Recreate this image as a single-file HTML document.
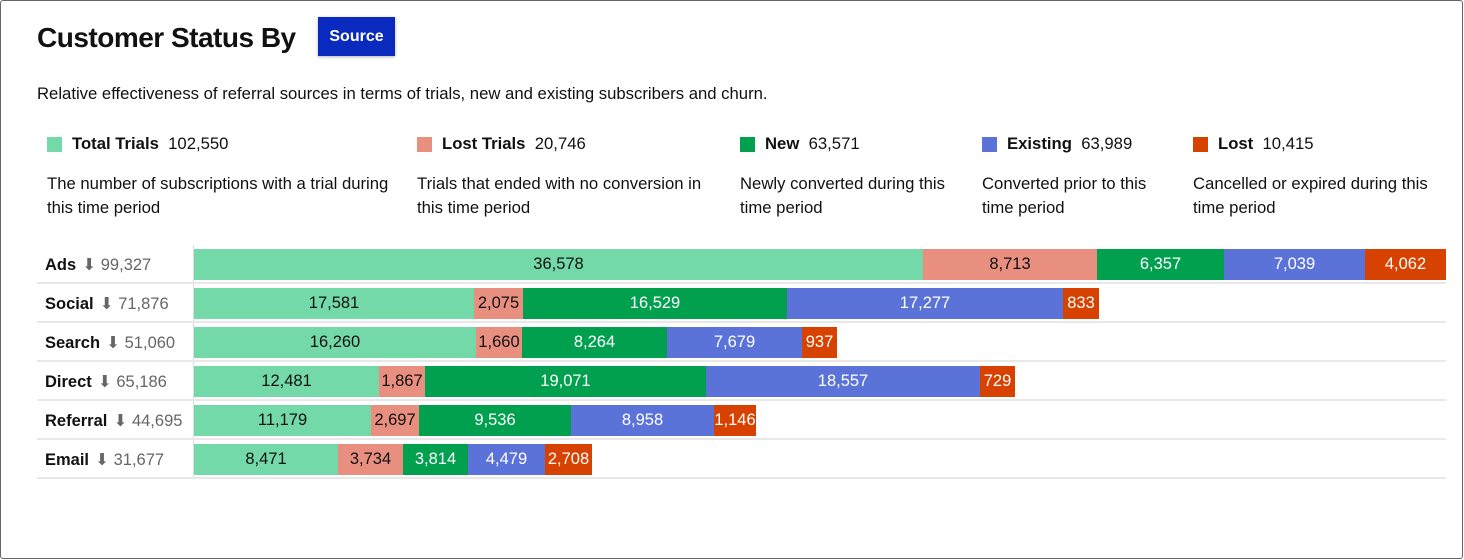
<!DOCTYPE html>
<html><head><meta charset="utf-8"><style>
*{margin:0;padding:0;box-sizing:border-box}
body{width:1464px;height:560px;background:#fff;font-family:"Liberation Sans",sans-serif;color:#111;position:relative;overflow:hidden}
.frame{position:absolute;left:0;top:0;width:1463px;height:559px;border:1px solid #666;border-radius:3px}
.abs{position:absolute;white-space:nowrap}
.title{left:37px;top:22px;font-size:28px;font-weight:bold;letter-spacing:-0.5px}
.btn{left:318px;top:17px;width:77px;height:39px;background:#0a29be;color:#fff;font-weight:bold;font-size:16px;text-align:center;line-height:39px;box-shadow:0 1px 3px rgba(0,0,0,.3)}
.sub{left:37px;top:84px;font-size:16.7px}
.sq{position:absolute;width:15px;height:15px;top:137px}
.lt{top:134px;font-size:16.7px}
.ds{top:172px;font-size:16.7px;line-height:24px;white-space:normal}
.rl{left:45px;font-size:16.5px}
.rl b{margin-right:6px}
.rl span{color:#666}
.sep{position:absolute;left:37px;width:1409px;height:2px;background:#e8e8e8}
.seg{position:absolute;height:31px;line-height:31px;text-align:center;font-size:16.5px;color:#111}
.w{color:#fff}
</style></head><body>
<div class="frame"></div>
<div class="abs title">Customer Status By</div>
<div class="abs btn">Source</div>
<div class="abs sub">Relative effectiveness of referral sources in terms of trials, new and existing subscribers and churn.</div>

<div class="sq" style="left:47px;background:#74d9a8"></div>
<div class="abs lt" style="left:72px"><b>Total Trials</b>&nbsp; 102,550</div>
<div class="abs ds" style="left:47px;width:360px">The number of subscriptions with a trial during this time period</div>
<div class="sq" style="left:417px;background:#e88f80"></div>
<div class="abs lt" style="left:442px"><b>Lost Trials</b>&nbsp; 20,746</div>
<div class="abs ds" style="left:417px;width:300px">Trials that ended with no conversion in this time period</div>
<div class="sq" style="left:740px;background:#00a04f"></div>
<div class="abs lt" style="left:765px"><b>New</b>&nbsp; 63,571</div>
<div class="abs ds" style="left:740px;width:220px">Newly converted during this time period</div>
<div class="sq" style="left:982px;background:#5b73d9"></div>
<div class="abs lt" style="left:1007px"><b>Existing</b>&nbsp; 63,989</div>
<div class="abs ds" style="left:982px;width:190px">Converted prior to this time period</div>
<div class="sq" style="left:1193px;background:#d84200"></div>
<div class="abs lt" style="left:1218px"><b>Lost</b>&nbsp; 10,415</div>
<div class="abs ds" style="left:1193px;width:250px">Cancelled or expired during this time period</div>

<div style="position:absolute;left:193px;top:245px;width:1px;height:234px;background:#ddd"></div>
<div id="rows"></div>
<script>
const C=['#74d9a8','#e88f80','#00a04f','#5b73d9','#d84200'];
const rows=[
['Ads','99,327',[194,923,1097,1224,1365,1446],['36,578','8,713','6,357','7,039','4,062']],
['Social','71,876',[194,474,523,787,1063,1099],['17,581','2,075','16,529','17,277','833']],
['Search','51,060',[194,476,522,667,802,837],['16,260','1,660','8,264','7,679','937']],
['Direct','65,186',[194,379,425,706,980,1015],['12,481','1,867','19,071','18,557','729']],
['Referral','44,695',[194,371,419,571,714,756],['11,179','2,697','9,536','8,958','1,146']],
['Email','31,677',[194,338,403,468,545,592],['8,471','3,734','3,814','4,479','2,708']]];
let h='';
rows.forEach((r,i)=>{const y=249+i*39;
h+=`<div class="abs rl" style="top:${y+6}px"><b>${r[0]}</b><span><span style="display:inline-block;width:14px;text-align:center">&#11015;</span> ${r[1]}</span></div>`;
for(let k=0;k<5;k++){h+=`<div class="seg${k>=2?' w':''}" style="left:${r[2][k]}px;top:${y}px;width:${r[2][k+1]-r[2][k]}px;background:${C[k]}">${r[3][k]}</div>`;}
h+=`<div class="sep" style="top:${y+33}px"></div>`;});
document.getElementById('rows').innerHTML=h;
</script>
</body></html>
